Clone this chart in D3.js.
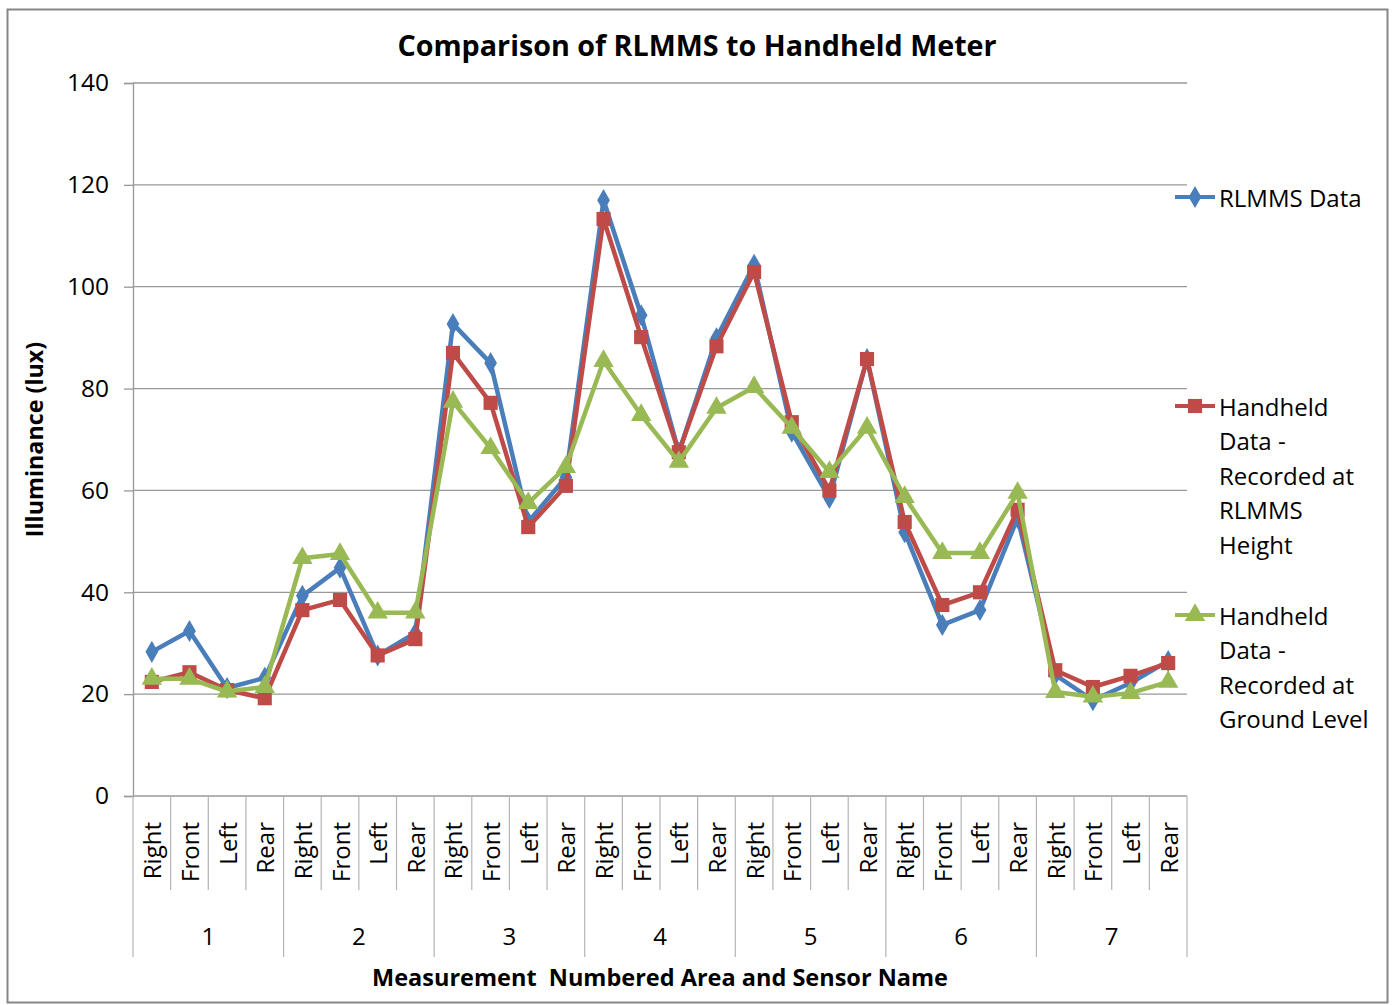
<!DOCTYPE html>
<html>
<head>
<meta charset="utf-8">
<script src="https://cdn.jsdelivr.net/npm/d3@7"></script>
<style>
  body { margin: 0; background: #fff; }
  svg { display: block; }
  text { font-family: "Open Sans", "DejaVu Sans", sans-serif; fill: #000; white-space: pre; }
</style>
</head>
<body>
<svg id="chart" width="1393" height="1005"></svg>
<script>
const groups = ["1", "2", "3", "4", "5", "6", "7"];
const sensors = ["Right", "Front", "Left", "Rear"];
const yTicks = [0, 20, 40, 60, 80, 100, 120, 140];

const rlmmsData = [28.3, 32.4, 21.2, 23.2, 39.3, 44.8, 27.6, 32.0, 92.7, 85.0, 53.8, 62.6, 117.0, 94.4, 67.5, 89.9, 104.3, 71.5, 58.5, 85.8, 51.8, 33.6, 36.5, 54.6, 23.8, 18.8, 22.2, 26.5];
const handheldHeight = [22.4, 24.3, 20.8, 19.2, 36.5, 38.5, 27.6, 30.8, 87.0, 77.2, 52.8, 60.9, 113.3, 90.1, 67.5, 88.3, 102.9, 73.4, 60.0, 85.8, 53.8, 37.5, 40.0, 56.2, 24.7, 21.4, 23.6, 26.1];
const handheldGround = [23.0, 23.0, 20.5, 21.4, 46.7, 47.5, 36.0, 36.0, 77.4, 68.3, 57.5, 64.6, 85.4, 74.8, 65.6, 76.2, 80.3, 72.3, 63.6, 72.3, 58.7, 47.7, 47.7, 59.5, 20.4, 19.5, 20.2, 22.4];

const seriesNames = ["RLMMS Data", "Handheld Data - Recorded at RLMMS Height", "Handheld Data - Recorded at Ground Level"];
const legendLines = [["RLMMS Data"], ["Handheld", "Data -", "Recorded at", "RLMMS", "Height"], ["Handheld", "Data -", "Recorded at", "Ground Level"]];
const colors = ["#4A7EBB", "#BE4B48", "#98B954"];
const symbols = [d3.symbolDiamond, d3.symbolSquare, d3.symbolTriangle];
const symbolSizes = [140, 200, 180];

const categories = [];
groups.forEach(g => sensors.forEach(s => categories.push({ group: g, sensor: s })));
const allSeries = [rlmmsData, handheldHeight, handheldGround];

const svg = d3.select("#chart");

// outer border
svg.append("rect").attr("x", 7.5).attr("y", 9.5).attr("width", 1380).attr("height", 993)
  .attr("fill", "#fff").attr("stroke", "#868686").attr("stroke-width", 2);

const pLeft = 133, pRight = 1187, pTop = 83, pBottom = 796;
const x = d3.scaleBand().domain(d3.range(categories.length)).range([pLeft, pRight]).padding(0);
const y = d3.scaleLinear().domain([0, 140]).range([pBottom, pTop]);
const cx = i => x(i) + x.bandwidth() / 2;

// gridlines
svg.append("g").selectAll("line").data(yTicks.filter(t => t > 0)).join("line")
  .attr("x1", pLeft).attr("x2", pRight).attr("y1", d => y(d)).attr("y2", d => y(d))
  .attr("stroke", "#989898").attr("stroke-width", 1.3);

// y axis
const yAxis = svg.append("g").attr("transform", `translate(${pLeft},0)`)
  .call(d3.axisLeft(y).tickValues(yTicks).tickSize(9).tickPadding(15));
yAxis.select(".domain").attr("stroke", "#989898").attr("stroke-width", 1.3);
yAxis.selectAll(".tick line").attr("stroke", "#989898").attr("stroke-width", 1.3);
yAxis.selectAll(".tick text").attr("font-size", 24.5).attr("font-family", "Open Sans").attr("fill", "#000");

// x axis baseline
svg.append("line").attr("x1", pLeft).attr("x2", pRight).attr("y1", pBottom).attr("y2", pBottom)
  .attr("stroke", "#989898").attr("stroke-width", 1.3);

// category separators
const bounds = d3.range(categories.length + 1);
svg.append("g").selectAll("line").data(bounds).join("line")
  .attr("x1", i => i < categories.length ? x(i) : pRight)
  .attr("x2", i => i < categories.length ? x(i) : pRight)
  .attr("y1", pBottom)
  .attr("y2", i => (i % 4 === 0) ? 957 : 890)
  .attr("stroke", "#b4b4b4").attr("stroke-width", 1.2);

// sensor labels
svg.append("g").selectAll("text").data(categories).join("text")
  .attr("transform", (d, i) => `translate(${cx(i)},822) rotate(-90)`)
  .attr("text-anchor", "end").attr("dominant-baseline", "central")
  .attr("font-size", 24).text(d => d.sensor);

// group labels
svg.append("g").selectAll("text").data(groups).join("text")
  .attr("x", (g, gi) => (x(gi * 4) + x(gi * 4 + 3) + x.bandwidth()) / 2)
  .attr("y", 935).attr("text-anchor", "middle").attr("dominant-baseline", "central")
  .attr("font-size", 24).text(d => d);

// lines and markers
const line = d3.line().x((d, i) => cx(i)).y(d => y(d));
allSeries.forEach((vals, si) => {
  const g = svg.append("g");
  g.append("path").datum(vals).attr("d", line).attr("fill", "none")
    .attr("stroke", colors[si]).attr("stroke-width", 4.5).attr("stroke-linejoin", "round");
  g.selectAll("path.m").data(vals).join("path").attr("class", "m")
    .attr("transform", (d, i) => `translate(${cx(i)},${y(d)})`)
    .attr("d", d3.symbol().type(symbols[si]).size(symbolSizes[si]))
    .attr("fill", colors[si]);
});

// title
svg.append("text").attr("x", 697).attr("y", 44).attr("text-anchor", "middle")
  .attr("dominant-baseline", "central").attr("font-size", 28.7).attr("font-weight", "bold")
  .text("Comparison of RLMMS to Handheld Meter");

// axis titles
svg.append("text").attr("transform", `translate(34,${(pTop + pBottom) / 2}) rotate(-90)`)
  .attr("text-anchor", "middle").attr("dominant-baseline", "central")
  .attr("font-size", 23.3).attr("font-weight", "bold").text("Illuminance (lux)");
svg.append("text").attr("x", (pLeft + pRight) / 2).attr("y", 977).attr("text-anchor", "middle")
  .attr("dominant-baseline", "central").attr("font-size", 23.5).attr("font-weight", "bold")
  .text("Measurement  Numbered Area and Sensor Name");

// legend
const legendY = [197, 406, 615];
const lineH = 34.6;
legendLines.forEach((lines, si) => {
  const g = svg.append("g").attr("transform", `translate(0,${legendY[si]})`);
  g.append("line").attr("x1", 1175).attr("x2", 1215).attr("y1", 0).attr("y2", 0)
    .attr("stroke", colors[si]).attr("stroke-width", 4);
  g.append("path").attr("transform", "translate(1195,0)")
    .attr("d", d3.symbol().type(symbols[si]).size(symbolSizes[si])).attr("fill", colors[si]);
  g.selectAll("text").data(lines).join("text")
    .attr("x", 1219).attr("y", (d, k) => k * lineH).attr("dominant-baseline", "central")
    .attr("font-size", 24).text(d => d);
});
</script>
</body>
</html>
